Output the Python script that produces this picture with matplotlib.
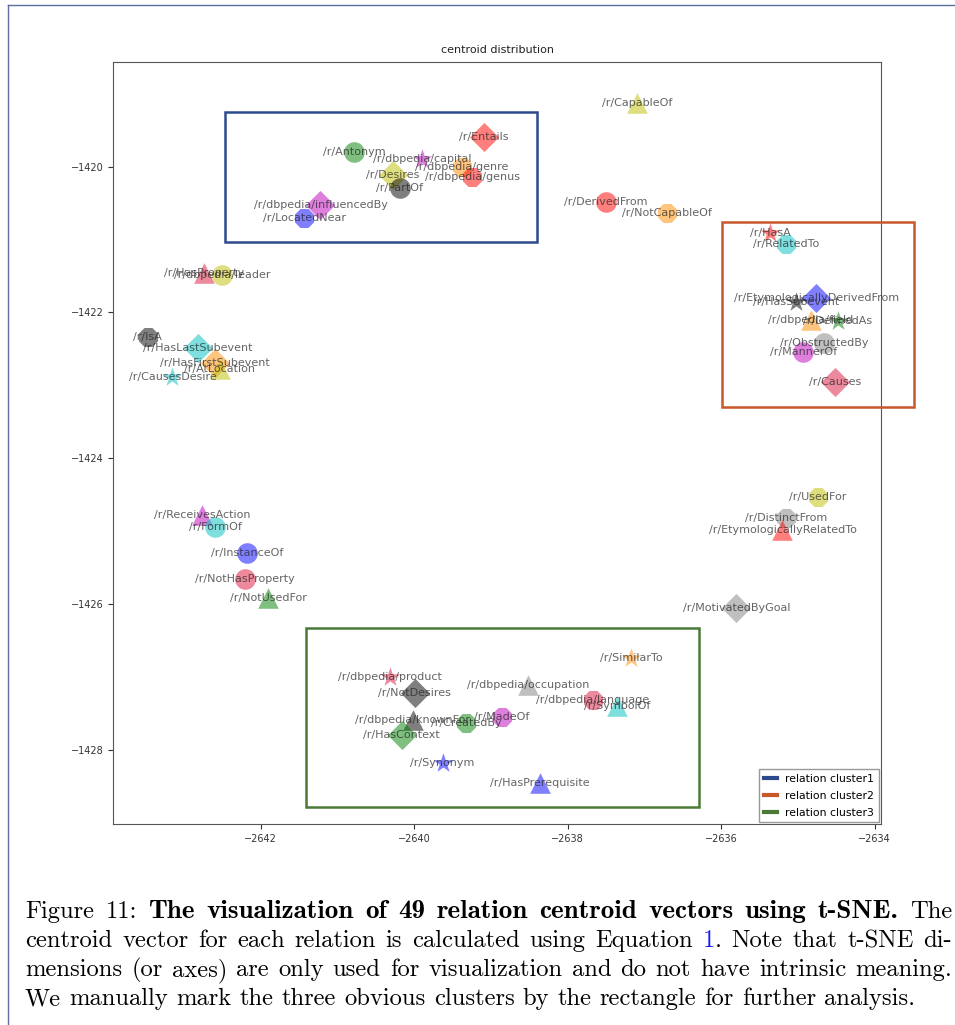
import matplotlib
matplotlib.use('Agg')
import matplotlib.pyplot as plt
from matplotlib.lines import Line2D
from matplotlib.patches import Rectangle

# relation centroids (t-SNE coordinates)
relations = ['/r/Entails', '/r/Antonym', '/r/dbpedia/capital', '/r/dbpedia/genre', '/r/dbpedia/genus',
             '/r/Desires', '/r/PartOf', '/r/dbpedia/influencedBy', '/r/LocatedNear',
             '/r/CapableOf', '/r/DerivedFrom', '/r/NotCapableOf',
             '/r/HasA', '/r/RelatedTo', '/r/EtymologicallyDerivedFrom', '/r/HasSubevent', '/r/dbpedia/field',
             '/r/DefinedAs', '/r/ObstructedBy', '/r/MannerOf', '/r/Causes',
             '/r/HasProperty', '/r/dbpedia/leader', '/r/IsA', '/r/HasLastSubevent', '/r/HasFirstSubevent',
             '/r/AtLocation', '/r/CausesDesire',
             '/r/ReceivesAction', '/r/FormOf', '/r/InstanceOf', '/r/NotHasProperty', '/r/NotUsedFor',
             '/r/UsedFor', '/r/DistinctFrom', '/r/EtymologicallyRelatedTo', '/r/MotivatedByGoal',
             '/r/SimilarTo', '/r/dbpedia/product', '/r/NotDesires', '/r/dbpedia/occupation',
             '/r/dbpedia/language', '/r/SymbolOf', '/r/MadeOf', '/r/CreatedBy', '/r/dbpedia/knownFor',
             '/r/HasContext', '/r/Synonym', '/r/HasPrerequisite']
xs = [-2639.09, -2640.78, -2639.90, -2639.38, -2639.24,
      -2640.28, -2640.19, -2641.22, -2641.43,
      -2637.09, -2637.50, -2636.71,
      -2635.36, -2635.15, -2634.76, -2635.02, -2634.83,
      -2634.48, -2634.66, -2634.93, -2634.52,
      -2642.74, -2642.50, -2643.47, -2642.82, -2642.60,
      -2642.53, -2643.15,
      -2642.76, -2642.59, -2642.18, -2642.21, -2641.90,
      -2634.74, -2635.15, -2635.20, -2635.80,
      -2637.17, -2640.31, -2639.99, -2638.52,
      -2637.67, -2637.35, -2638.86, -2639.32, -2640.02,
      -2640.16, -2639.63, -2638.36]
ys = [-1419.59, -1419.80, -1419.89, -1420.00, -1420.14,
      -1420.11, -1420.29, -1420.53, -1420.70,
      -1419.13, -1420.48, -1420.64,
      -1420.91, -1421.06, -1421.80, -1421.86, -1422.10,
      -1422.12, -1422.42, -1422.54, -1422.95,
      -1421.46, -1421.49, -1422.34, -1422.49, -1422.69,
      -1422.78, -1422.88,
      -1424.78, -1424.94, -1425.30, -1425.66, -1425.92,
      -1424.53, -1424.82, -1424.98, -1426.05,
      -1426.74, -1427.00, -1427.22, -1427.11,
      -1427.32, -1427.40, -1427.55, -1427.63, -1427.59,
      -1427.80, -1428.18, -1428.45]
colors = ['r', 'g', 'm', 'darkorange', 'r',
          'y', 'k', 'm', 'b',
          'y', 'r', 'darkorange',
          'r', 'c', 'b', 'k', 'darkorange',
          'g', 'gray', 'm', 'crimson',
          'crimson', 'y', 'k', 'c', 'darkorange',
          'y', 'c',
          'm', 'c', 'b', 'crimson', 'g',
          'y', 'gray', 'r', 'gray',
          'darkorange', 'crimson', 'k', 'gray',
          'crimson', 'c', 'm', 'g', 'k',
          'g', 'b', 'b']
markers = ['D', 'o', '*', '8', '8',
           'D', 'o', 'D', '8',
           '^', 'o', '8',
           '*', '8', 'D', '*', '^',
           '*', 'o', 'o', 'D',
           '^', 'o', '8', 'D', 'D',
           '^', '*',
           '^', 'o', 'o', 'o', '^',
           '8', '8', '^', 'D',
           '*', '*', 'D', '^',
           '8', '^', '8', '8', '^',
           'D', '*', '^']

clusters = ['relation cluster1', 'relation cluster2', 'relation cluster3']
cluster_colors = ['#2d4b8c', '#c8572a', '#4b7a36']
# x0, x1, y0, y1 of the hand drawn boxes
cluster_boxes = [(-2642.47, -2638.40, -1421.03, -1419.25),
                 (-2635.99, -2633.48, -1423.30, -1420.76),
                 (-2641.41, -2636.29, -1428.78, -1426.33)]

W, H = 955, 1025
fig = plt.figure(figsize=(W / 100, H / 100), dpi=100)
ax = fig.add_axes([113.3 / W, 1 - 824.3 / H, (880.7 - 113.3) / W, (824.3 - 61.7) / H])

for name, x, y, c, m in zip(relations, xs, ys, colors, markers):
    ax.scatter(x, y, s=220, c=c, marker=m, alpha=0.5, linewidths=0, zorder=2)
    ax.text(x, y, name, ha='center', va='center', fontsize=8, color='#222222', alpha=0.7, zorder=3)

for (x0, x1, y0, y1), c in zip(cluster_boxes, cluster_colors):
    ax.add_patch(Rectangle((x0, y0), x1 - x0, y1 - y0, fill=False, edgecolor=c, lw=1.8,
                           clip_on=False, zorder=4))

ax.set_xlim(-2643.92, -2633.92)
ax.set_ylim(-1429.02, -1418.56)
ax.set_xticks([-2642, -2640, -2638, -2636, -2634])
ax.set_yticks([-1420, -1422, -1424, -1426, -1428])
ax.tick_params(labelsize=7, colors='#333333', length=3.5)
for sp in ax.spines.values():
    sp.set_color('#555555')
ax.set_title('centroid distribution', fontsize=8, color='#222222', pad=6)

handles = [Line2D([], [], color=c, lw=3) for c in cluster_colors]
ax.legend(handles, clusters, loc='lower right', fontsize=7.8, handlelength=1.2, labelspacing=0.65,
          fancybox=False, edgecolor='#999999', framealpha=1, borderaxespad=0.2)

# page frame lines
fig.add_artist(Line2D([8 / W, 8 / W], [0, 1 - 5 / H], transform=fig.transFigure, color='#5b6f9e', lw=1))
fig.add_artist(Line2D([8 / W, 1], [1 - 5 / H, 1 - 5 / H], transform=fig.transFigure, color='#5b6f9e', lw=1))

# caption, justified like the LaTeX source
caption = [
    [('Figure 11: ', 0, 'black'), ('The visualization of 49 relation centroid vectors using t-SNE.', 1, 'black'),
     (' The', 0, 'black')],
    [('centroid vector for each relation is calculated using Equation ', 0, 'black'), ('1', 0, '#1a1aff'),
     ('. Note that t-SNE di-', 0, 'black')],
    [('mensions (or axes) are only used for visualization and do not have intrinsic meaning.', 0, 'black')],
    [('We manually mark the three obvious clusters by the rectangle for further analysis.', 0, 'black')],
]
baselines = [918, 947, 976, 1005]
left, right, last_right = 25, 952, 916


def to_words(segments):
    words = [[]]
    for txt, bold, col in segments:
        for i, p in enumerate(txt.split(' ')):
            if i > 0:
                words.append([])
            if p:
                words[-1].append((p, bold, col))
    return [w for w in words if w]


fig.canvas.draw()
rend = fig.canvas.get_renderer()


def piece_kw(p, fs):
    # bold extended face of LaTeX is wider than cmb10, so scale it a bit
    if p[1]:
        return dict(fontsize=fs * 1.1, family='cmb10')
    return dict(fontsize=fs, family='cmr10')


def piece_w(p, fs):
    t = fig.text(0, 0, p[0], **piece_kw(p, fs))
    w = t.get_window_extent(rend).width
    t.remove()
    return w


lines = [to_words(s) for s in caption]
fs = 17
nat = sum(sum(piece_w(p, fs) for p in w) for w in lines[3])
space = 0.333 * fs * 100 / 72
nat += space * (len(lines[3]) - 1)
fs = fs * (last_right - left) / nat
space = 0.333 * fs * 100 / 72

for k, (words, base) in enumerate(zip(lines, baselines)):
    widths = [[piece_w(p, fs) for p in w] for w in words]
    total = sum(sum(ww) for ww in widths)
    gap = space if k == len(lines) - 1 else (right - left - total) / (len(words) - 1)
    x = left
    for w, ww in zip(words, widths):
        for p, pw in zip(w, ww):
            fig.text(x / W, 1 - base / H, p[0], color=p[2], va='baseline', **piece_kw(p, fs))
            x += pw
        x += gap

fig.savefig('out.png', dpi=100)
